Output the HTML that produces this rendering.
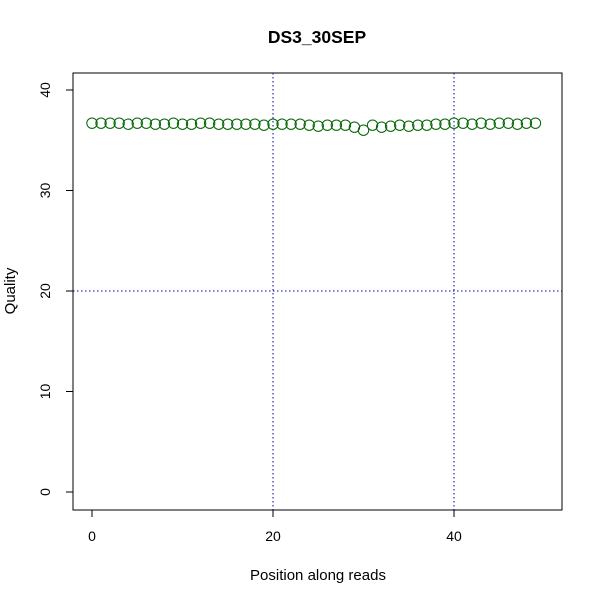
<!DOCTYPE html>
<html><head><meta charset="utf-8"><style>body{margin:0;background:#fff}svg{display:block}</style></head>
<body>
<svg id="chart" width="600" height="600" xmlns="http://www.w3.org/2000/svg" font-family="Liberation Sans, sans-serif">
<text x="317" y="43" text-anchor="middle" font-size="17.5" font-weight="bold">DS3_30SEP</text>
<rect x="73" y="73" width="489" height="437" fill="none" stroke="#000"/>
<g id="grid"></g><g id="axes"></g><g id="points"></g>
<text x="318" y="580" text-anchor="middle" font-size="15">Position along reads</text>
<text transform="translate(15,291) rotate(-90)" text-anchor="middle" font-size="15">Quality</text>
</svg>
<script>
const positions=[0,1,2,3,4,5,6,7,8,9,10,11,12,13,14,15,16,17,18,19,20,21,22,23,24,25,26,27,28,29,30,31,32,33,34,35,36,37,38,39,40,41,42,43,44,45,46,47,48,49];
const quality=[36.7,36.7,36.7,36.7,36.6,36.7,36.7,36.6,36.6,36.7,36.6,36.6,36.7,36.7,36.6,36.6,36.6,36.6,36.6,36.5,36.6,36.6,36.6,36.6,36.5,36.4,36.5,36.5,36.5,36.3,36.0,36.5,36.3,36.4,36.5,36.4,36.5,36.5,36.6,36.6,36.7,36.7,36.6,36.7,36.6,36.7,36.7,36.6,36.7,36.7];
const xTicks=[0,20,40];
const yTicks=[0,10,20,30,40];
const ns='http://www.w3.org/2000/svg';
const X=v=>92+v*9.05, Y=v=>492-v*10.05;
function mk(t,a,p){const e=document.createElementNS(ns,t);for(const k in a)e.setAttribute(k,a[k]);p.appendChild(e);return e;}
const grid=document.getElementById('grid'),axes=document.getElementById('axes'),pts=document.getElementById('points');
[20,40].forEach(v=>{const l=mk('line',{x1:X(v),x2:X(v),y1:73,y2:510,stroke:'#0000aa','stroke-dasharray':'1.5,2.5'},grid);

});
[20].forEach(v=>{const l=mk('line',{x1:73,x2:562,y1:Y(v),y2:Y(v),stroke:'#0000aa','stroke-dasharray':'1.5,2.5'},grid);

});
mk('line',{x1:X(0),x2:X(40),y1:510,y2:510,stroke:'#000'},axes);
mk('line',{x1:73,x2:73,y1:Y(0),y2:Y(40),stroke:'#000'},axes);
xTicks.forEach(v=>{mk('line',{x1:X(v),x2:X(v),y1:510,y2:517,stroke:'#000'},axes);
const t=mk('text',{x:X(v),y:541,'text-anchor':'middle','font-size':'14'},axes);t.textContent=v;

});
yTicks.forEach(v=>{mk('line',{x1:66,x2:73,y1:Y(v),y2:Y(v),stroke:'#000'},axes);
const t=mk('text',{transform:`translate(50,${Y(v)}) rotate(-90)`,'text-anchor':'middle','font-size':'14'},axes);t.textContent=v;

});
positions.forEach((p,i)=>{const c=mk('circle',{cx:X(p),cy:Y(quality[i]),r:5.2,fill:'none',stroke:'#006400','stroke-width':1},pts);

});
</script>
</body></html>
